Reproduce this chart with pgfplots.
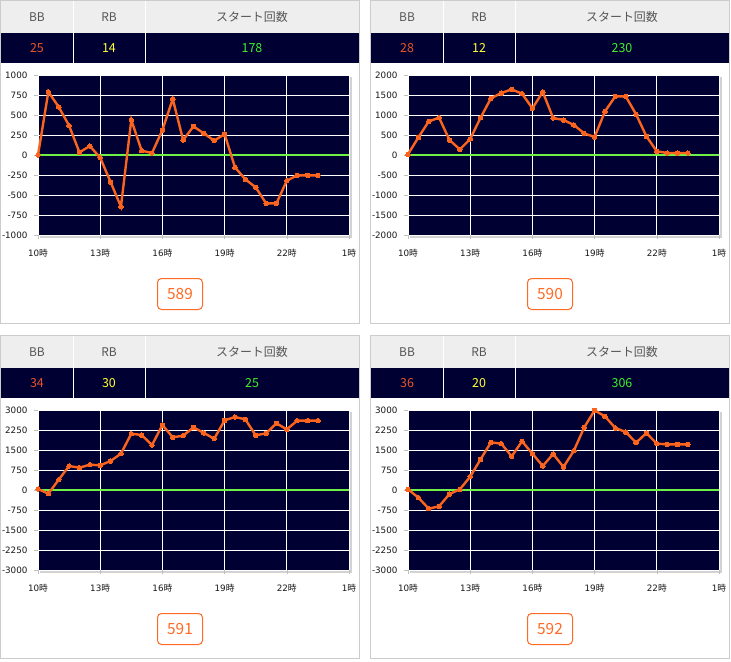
\documentclass[border=0pt]{standalone}
\usepackage{fontspec}
\setmainfont{DejaVu Sans}
\newfontfamily\jp{Noto Sans CJK JP}
\usepackage{pgfplots}
\usepackage{pgfplotstable}
\pgfplotsset{compat=1.18}
\definecolor{navy}{RGB}{0,0,51}
\definecolor{headgray}{RGB}{238,238,238}
\definecolor{bordergray}{RGB}{204,204,204}
\definecolor{headtext}{RGB}{85,85,85}
\definecolor{bbcol}{RGB}{232,84,40}
\definecolor{rbcol}{RGB}{255,255,51}
\definecolor{stcol}{RGB}{60,240,40}
\definecolor{linecol}{RGB}{250,100,30}
\definecolor{btncol}{RGB}{255,106,36}
\definecolor{zerocol}{RGB}{110,240,70}

\pgfplotstableread{
x y
10 0
10.5 790
11 600
11.5 367
12 33
12.5 112
13 -33
13.5 -337
14 -646
14.5 437
15 54
15.5 25
16 312
16.5 700
17 187
17.5 358
18 270
18.5 179
19 262
19.5 -154
20 -304
20.5 -404
21 -604
21.5 -604
22 -321
22.5 -254
23 -254
23.5 -254
}\dataA
\pgfplotstableread{
x y
10 17
10.5 440
11 840
11.5 933
12 375
12.5 140
13 400
13.5 933
14 1417
14.5 1550
15 1640
15.5 1533
16 1167
16.5 1575
17 925
17.5 875
18 750
18.5 540
19 450
19.5 1090
20 1467
20.5 1467
21 1017
21.5 467
22 92
22.5 50
23 50
23.5 50
}\dataB
\pgfplotstableread{
x y
10 37
10.5 -137
11 387
11.5 900
12 837
12.5 950
13 925
13.5 1087
14 1362
14.5 2112
15 2062
15.5 1687
16 2437
16.5 1975
17 2037
17.5 2350
18 2137
18.5 1925
19 2612
19.5 2737
20 2650
20.5 2050
21 2125
21.5 2500
22 2275
22.5 2600
23 2600
23.5 2600
}\dataC
\pgfplotstableread{
x y
10 25
10.5 -287
11 -700
11.5 -612
12 -150
12.5 25
13 500
13.5 1150
14 1787
14.5 1737
15 1262
15.5 1825
16 1362
16.5 900
17 1350
17.5 862
18 1475
18.5 2350
19 2987
19.5 2762
20 2325
20.5 2175
21 1775
21.5 2137
22 1737
22.5 1712
23 1712
23.5 1712
}\dataD

\pgfplotsset{panel/.style={
  scale only axis, width=311bp, height=160bp,
  xmin=10, xmax=25,
  xtick={10,13,16,19,22,25},
  xticklabels={10{\jp 時},13{\jp 時},16{\jp 時},19{\jp 時},22{\jp 時},1{\jp 時}},
  axis background/.style={fill=navy},
  axis line style={draw=none},
  grid=major, major grid style={white, line width=0.8bp},
  tick align=outside, major tick length=4bp,
  tick style={gray!50, line width=0.6bp},
  xtick pos=bottom, ytick pos=left,
  tick label style={font=\fontsize{8.8}{10}\selectfont, text=black!90},
  /pgf/number format/assume math mode=true,
  /pgf/number format/.cd, 1000 sep={}, /pgfplots/.cd,
  yticklabel style={xshift=-3bp},
  xticklabel style={yshift=-7bp},
  clip=false,
  anchor=north west,
}}
\pgfplotsset{dataline/.style={color=linecol, line width=2.4bp, mark=*, mark size=2.3bp, mark options={fill=linecol, draw=linecol, line width=0bp}}}

\newcommand\panelframe[6]{%
 \begin{scope}[shift={(#1bp,-#2bp)}, x=1bp, y=-1bp]
  \draw[bordergray, fill=white, line width=1bp] (0.5,0.5) rectangle (359.5,323.5);
  \fill[headgray] (1,1) rectangle (359,32.5);
  \fill[navy] (1,32.5) rectangle (359,63);
  \draw[white, line width=1bp] (73,1) -- (73,63);
  \draw[white, line width=1bp] (145,1) -- (145,63);
  \node[text=headtext, font=\jp\fontsize{12}{13}\selectfont] at (37,17) {BB};
  \node[text=headtext, font=\jp\fontsize{12}{13}\selectfont] at (109,17) {RB};
  \node[text=headtext, font=\jp\fontsize{12}{13}\selectfont] at (252,17) {スタート回数};
  \node[text=bbcol, font=\jp\fontsize{12.5}{13}\selectfont] at (37,48) {#3};
  \node[text=rbcol, font=\jp\fontsize{12.5}{13}\selectfont] at (109,48) {#4};
  \node[text=stcol, font=\jp\fontsize{12.5}{13}\selectfont] at (252,48) {#5};
  \fill[gray!35] (40,77) rectangle (351.5,237.5);
  \draw[btncol, line width=1bp, rounded corners=4bp] (157.5,278.5) rectangle (202.5,309.5);
  \node[text=btncol, font=\jp\fontsize{15.5}{17}\selectfont] at (180,294) {#6};
 \end{scope}}

\begin{document}
\begin{tikzpicture}
\path[use as bounding box, fill=white] (0,0) rectangle (731bp,-662bp);
\panelframe{0}{0}{25}{14}{178}{589}
\panelframe{370}{0}{28}{12}{230}{590}
\panelframe{0}{335}{34}{30}{25}{591}
\panelframe{370}{335}{36}{20}{306}{592}

\begin{axis}[panel, at={(38bp,-75bp)}, ymin=-1000, ymax=1000, ytick={-1000,-750,...,1000}]
\addplot[zerocol, line width=1.2bp, no marks] coordinates {(10,0) (25,0)};
\addplot[dataline] table[x=x,y=y] {\dataA};
\end{axis}
\begin{axis}[panel, at={(408bp,-75bp)}, ymin=-2000, ymax=2000, ytick={-2000,-1500,...,2000}]
\addplot[zerocol, line width=1.2bp, no marks] coordinates {(10,0) (25,0)};
\addplot[dataline] table[x=x,y=y] {\dataB};
\end{axis}
\begin{axis}[panel, at={(38bp,-410bp)}, ymin=-3000, ymax=3000, ytick={-3000,-2250,...,3000}]
\addplot[zerocol, line width=1.2bp, no marks] coordinates {(10,0) (25,0)};
\addplot[dataline] table[x=x,y=y] {\dataC};
\end{axis}
\begin{axis}[panel, at={(408bp,-410bp)}, ymin=-3000, ymax=3000, ytick={-3000,-2250,...,3000}]
\addplot[zerocol, line width=1.2bp, no marks] coordinates {(10,0) (25,0)};
\addplot[dataline] table[x=x,y=y] {\dataD};
\end{axis}
\end{tikzpicture}
\end{document}
